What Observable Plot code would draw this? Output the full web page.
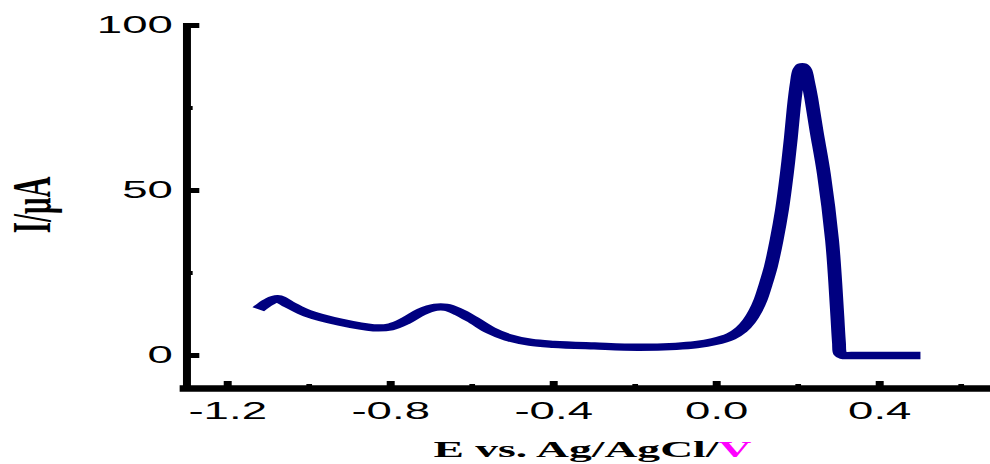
<!DOCTYPE html>
<html>
<head>
<meta charset="utf-8">
<script src="https://cdn.jsdelivr.net/npm/d3@7"></script>
<script src="https://cdn.jsdelivr.net/npm/@observablehq/plot@0.6"></script>
<style>
  html, body { margin: 0; padding: 0; background: #fff; }
  #chart { width: 990px; height: 464px; overflow: hidden; }
</style>
</head>
<body>
<div id="chart"></div>
<script>
// ---- data (potential in V, current in µA) ----
const potential = [-1.125, -1.10, -1.078, -1.05, -1.005, -0.924, -0.842, -0.80, -0.762, -0.725,
  -0.69, -0.665, -0.635, -0.595, -0.555, -0.513, -0.457, -0.40, -0.30, -0.194, -0.10,
  -0.05, -0.007, 0.035, 0.06, 0.08, 0.095, 0.108, 0.12, 0.133, 0.147,
  0.16, 0.172, 0.182, 0.189, 0.196, 0.203, 0.210, 0.217, 0.224, 0.232,
  0.245, 0.263, 0.283, 0.291, 0.296, 0.300, 0.303, 0.310, 0.33, 0.40, 0.50];
const current = [14.0, 16.2, 17.2, 15.5, 12.8, 10.1, 8.4, 8.7, 10.6, 13.2,
  14.6, 14.6, 13.3, 10.6, 7.6, 5.5, 4.0, 3.4, 2.9, 2.5, 2.8,
  3.3, 4.2, 5.8, 7.8, 10.5, 13.5, 17.0, 21.5, 27, 35,
  44, 55, 66, 75, 82, 86.5, 87.5, 86.5, 83, 78,
  68, 55, 35, 22, 12, 4, 0.6, 0, 0, 0, 0];

const xDomain = [-1.3, 0.673];
const yDomain = [-10, 100];
const xMajorTicks = [-1.2, -0.8, -0.4, 0.0, 0.4];
const xMinorTicks = [-1.0, -0.6, -0.2, 0.2, 0.6];
const yMajorTicks = [0, 50, 100];
const yMinorTicks = [25, 75];
const xTitle = "E vs. Ag/AgCl/";
const xTitleUnit = "V";
const yTitle = "I/μA";

// The reference is stretched horizontally; draw in a narrower space and stretch the SVG.
const STRETCH = 1.9;
const W = 990 / STRETCH;
const H = 464;

const data = potential.map((E, i) => ({E, I: current[i]}));
const fmtX = d => d.toFixed(1);

const plot = Plot.plot({
  width: W,
  height: H,
  marginLeft: 97.9,
  marginRight: 0,
  marginTop: 25,
  marginBottom: 76,
  x: {domain: xDomain},
  y: {domain: yDomain},
  style: {fontFamily: "'Liberation Sans', Arial, sans-serif", fontSize: "24px", color: "#000", background: "#fff", overflow: "visible"},
  marks: [
    // inward ticks
    Plot.axisY(yMinorTicks, {tickSize: 3.5, dx: 3.5, strokeWidth: 4, fill: "none", label: null}),
    Plot.axisY(yMajorTicks, {tickSize: 7, dx: 7, strokeWidth: 5, fill: "none", label: null}),
    Plot.axisX(xMinorTicks, {tickSize: 4, dy: -4, strokeWidth: 3, fill: "none", label: null}),
    Plot.axisX(xMajorTicks, {tickSize: 7, dy: -7, strokeWidth: 4.2, fill: "none", label: null}),
    // tick labels
    Plot.axisY(yMajorTicks, {tickSize: 0, tickPadding: 7.4, tickFormat: d => String(d), fontSize: 24, label: null}),
    Plot.axisX(xMajorTicks, {tickSize: 0, tickPadding: 13, tickFormat: fmtX, fontSize: 24, label: null}),
    // axis lines
    Plot.ruleX([xDomain[0]], {stroke: "#000", strokeWidth: 4.2, strokeLinecap: "square"}),
    Plot.ruleY([yDomain[0]], {stroke: "#000", strokeWidth: 6.7, strokeLinecap: "square"}),
    // voltammogram
    Plot.line(data, {x: "E", y: "I", stroke: "#000080", strokeWidth: 7.3, curve: "catmull-rom",
      strokeLinecap: "butt", strokeLinejoin: "round"})
  ]
});

const svg = d3.select(plot);
svg.attr("width", 990).attr("height", 464).attr("preserveAspectRatio", "none")
  .style("width", "990px").style("height", "464px").style("max-width", "none");

// x-axis title with magenta unit
const xt = svg.append("text")
  .attr("x", 311.8).attr("y", 457)
  .attr("text-anchor", "middle")
  .attr("font-family", "'Liberation Serif', 'Times New Roman', serif")
  .attr("font-weight", "bold")
  .attr("font-size", 24)
  .attr("fill", "#000");
xt.append("tspan").text(xTitle);
xt.append("tspan").attr("fill", "#ff00ff").text(xTitleUnit);

// y-axis title
svg.append("text")
  .attr("transform", "translate(26.3,205) rotate(-90)")
  .attr("text-anchor", "middle")
  .attr("font-family", "'Liberation Serif', 'Times New Roman', serif")
  .attr("font-weight", "bold")
  .attr("font-size", 29)
  .attr("fill", "#000")
  .text(yTitle);

document.getElementById("chart").appendChild(plot);
</script>
</body>
</html>
